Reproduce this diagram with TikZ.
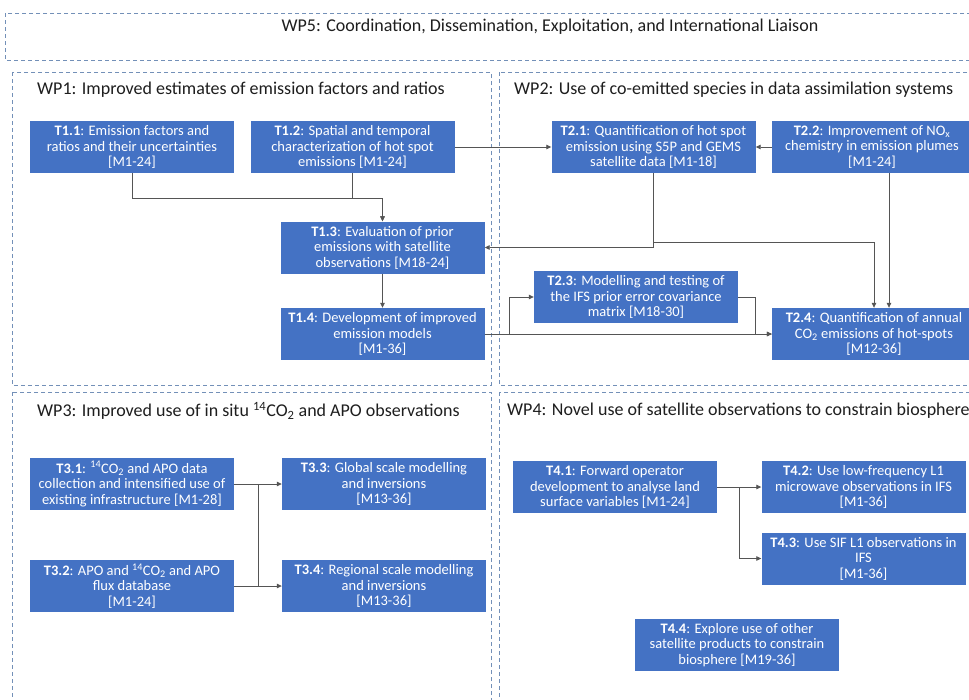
\documentclass[tikz,border=0pt]{standalone}
\usepackage{fontspec}
\setmainfont{Carlito}
\usetikzlibrary{arrows.meta,calc}
\definecolor{taskblue}{HTML}{4472C4}
\definecolor{dashblue}{HTML}{7390B8}
\definecolor{conngray}{HTML}{555555}
\definecolor{titlegray}{HTML}{1E1E1E}
\tikzset{
  task/.style={fill=taskblue, text=white, font=\fontsize{14.5}{15.5}\selectfont, align=center,
    inner sep=0pt, minimum width=204pt, minimum height=52pt},
  wpbox/.style={draw=dashblue, line width=0.9pt, dash pattern=on 4pt off 3pt},
  wptitle/.style={text=titlegray, font=\fontsize{18}{20}\selectfont, inner sep=0pt},
  conn/.style={draw=conngray, line width=0.8pt, -{Triangle[length=5pt,width=4.5pt]}},
  plain/.style={draw=conngray, line width=0.8pt}
}
\begin{document}
\begin{tikzpicture}[x=1pt,y=-1pt]
\clip (0,0) rectangle (969,699);
\fill[white] (0,0) rectangle (969,699);
% work package containers
\draw[wpbox] (5,13) rectangle (980,60);
\draw[wpbox] (12,72) rectangle (491,385);
\draw[wpbox] (499,72) rectangle (980,385);
\draw[wpbox] (12,392) rectangle (491,710);
\draw[wpbox] (499,392) rectangle (980,710);
% titles
\node[wptitle] (wp5) at (550,27) {WP5: Coordination, Dissemination, Exploitation, and International Liaison};
\node[wptitle, anchor=west] (wp1) at (37,90) {WP1: Improved estimates of emission factors and ratios};
\node[wptitle, anchor=west] (wp2) at (514,90) {WP2: Use of co-emitted species in data assimilation systems};
\node[wptitle, anchor=west] (wp3) at (37,411) {WP3: Improved use of in situ \textsuperscript{14}CO\textsubscript{2} and APO observations};
\node[wptitle, anchor=west] (wp4) at (507,411) {WP4: Novel use of satellite observations to constrain biosphere};
% WP1 tasks
\node[task] (t11) at (132,147) {\textbf{T1.1}: Emission factors and\\ratios and their uncertainties\\{[M1-24]}};
\node[task] (t12) at (352.5,147) {\textbf{T1.2}: Spatial and temporal\\characterization of hot spot\\emissions [M1-24]};
\node[task] (t13) at (382.5,247.5) {\textbf{T1.3}: Evaluation of prior\\emissions with satellite\\observations [M18-24]};
\node[task] (t14) at (382.5,334) {\textbf{T1.4}: Development of improved\\emission models\\{[M1-36]}};
% WP2 tasks
\node[task] (t21) at (653.5,147) {\textbf{T2.1}: Quantification of hot spot\\emission using S5P and GEMS\\satellite data [M1-18]};
\node[task, minimum width=200pt] (t22) at (872,147) {\textbf{T2.2}: Improvement of NO\textsubscript{x}\\chemistry in emission plumes\\{[M1-24]}};
\node[task] (t23) at (636,297) {\textbf{T2.3}: Modelling and testing of\\the IFS prior error covariance\\matrix [M18-30]};
\node[task] (t24) at (874,334) {\textbf{T2.4}: Quantification of annual\\CO\textsubscript{2} emissions of hot-spots\\{[M12-36]}};
% WP3 tasks
\node[task] (t31) at (132,484) {\textbf{T3.1}: \textsuperscript{14}CO\textsubscript{2} and APO data\\collection and intensified use of\\existing infrastructure [M1-28]};
\node[task] (t32) at (132,586) {\textbf{T3.2}: APO and \textsuperscript{14}CO\textsubscript{2} and APO\\flux database\\{[M1-24]}};
\node[task] (t33) at (384,484) {\textbf{T3.3}: Global scale modelling\\and inversions\\{[M13-36]}};
\node[task] (t34) at (384,586) {\textbf{T3.4}: Regional scale modelling\\and inversions\\{[M13-36]}};
% WP4 tasks
\node[task] (t41) at (615,487) {\textbf{T4.1}: Forward operator\\development to analyse land\\surface variables [M1-24]};
\node[task] (t42) at (863.5,487) {\textbf{T4.2}: Use low-frequency L1\\microwave observations in IFS\\{[M1-36]}};
\node[task] (t43) at (863.5,558.5) {\textbf{T4.3}: Use SIF L1 observations in\\IFS\\{[M1-36]}};
\node[task] (t44) at (737,645) {\textbf{T4.4}: Explore use of other\\satellite products to constrain\\biosphere [M19-36]};
% WP1 connectors
\draw[conn] (t11.south) -- ++(0,25) -| (t13.north);
\draw[conn] (t12.south) -- ++(0,25) -| (t13.north);
\draw[conn] (t13.south) -- (t14.north);
\draw[conn] (t12.east) -- (t21.west);
% WP2 connectors
\draw[conn] (t22.west) -- (t21.east);
\draw[conn] (t21.south) |- (t13.east);
\draw[conn] (t21.south) -- ++(0,69) -| (t24.north);
\draw[conn] ([xshift=15pt]t24.north |- t22.south) -- ([xshift=15pt]t24.north);
\draw[conn] (t14.east) -- (t24.west);
\draw[conn] (t14.east) -- ++(25,0) |- (t23.west);
\draw[conn] (t23.east) -- ++(17,0) |- (t24.west);
% WP3 connectors
\coordinate (b1) at ($(t31.east)!0.5!(t33.west)$);
\coordinate (b2) at ($(t32.east)!0.5!(t34.west)$);
\draw[conn] (t31.east) -- (t33.west);
\draw[conn] (t32.east) -- (t34.west);
\draw[plain] (b1) -- (b2);
% WP4 connectors
\draw[conn] (t41.east) -- (t42.west);
\draw[conn] (t41.east) -- ++(22,0) |- (t43.west);
\end{tikzpicture}
\end{document}
